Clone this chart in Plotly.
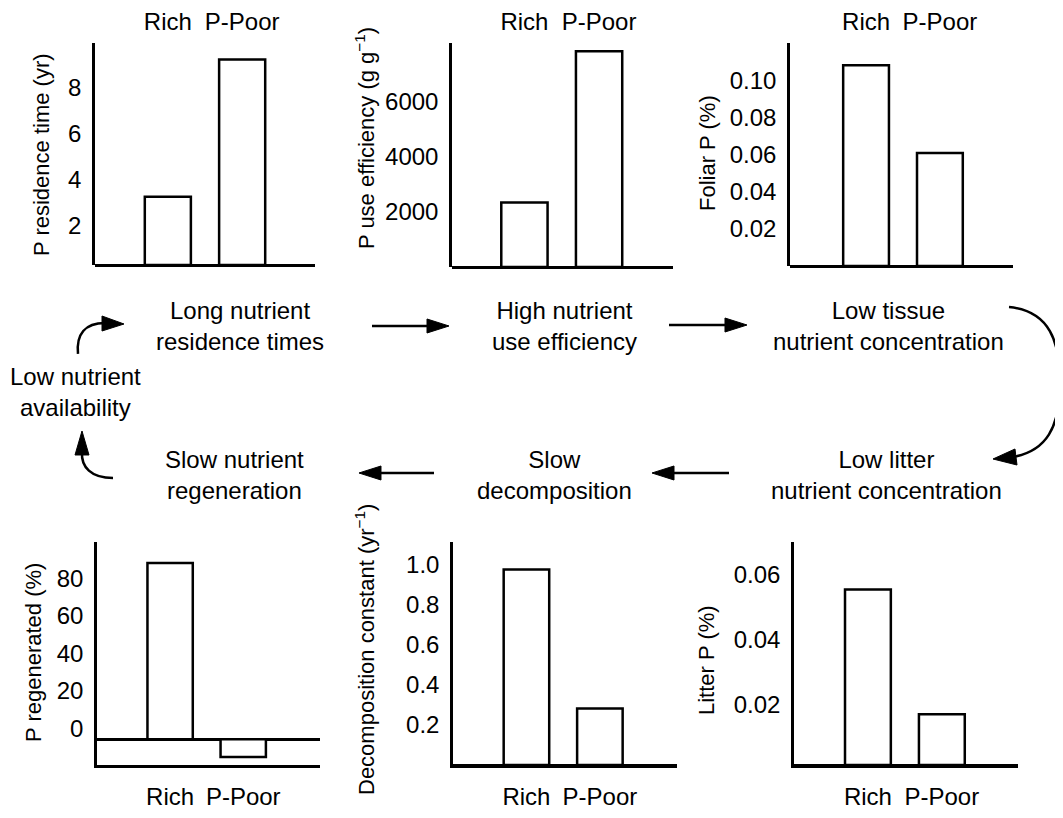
import plotly.graph_objects as go

# page is 1063x818; the default HTML body margin offsets the figure by 8 px
PAGE_W, PAGE_H = 1063, 818
OFF = 8
W, H = PAGE_W - OFF, PAGE_H - OFF

# ---------------- data ----------------
categories = ["Rich", "P-Poor"]
residence_time = [2.95, 8.9]          # P residence time (yr)
use_efficiency = [2350, 7850]         # P use efficiency (g g-1)
foliar_p = [0.1085, 0.061]            # Foliar P (%)
p_regenerated = [94, -9.5]            # P regenerated (%)
decomp_k = [0.978, 0.283]             # Decomposition constant (yr-1)
litter_p = [0.054, 0.0156]            # Litter P (%)

ticks_res = [2, 4, 6, 8]
ticks_nue = [2000, 4000, 6000]
ticks_fol = [0.02, 0.04, 0.06, 0.08, 0.10]
ticks_reg = [0, 20, 40, 60, 80]
ticks_dec = [0.2, 0.4, 0.6, 0.8, 1.0]
ticks_lit = [0.02, 0.04, 0.06]

titles = [
    "P residence time (yr)",
    "P use efficiency (g g<sup>−1</sup>)",
    "Foliar P (%)",
    "P regenerated (%)",
    "Decomposition constant (yr<sup>−1</sup>)",
    "Litter P (%)",
]

FONT = "Liberation Sans, Arial, Helvetica, sans-serif"
FS = 24
LW = 2.5


def fx(x):
    return (x - OFF) / W


def fy(y):
    return 1 - (y - OFF) / H


def px(x, y):
    return f"{fx(x):.5f},{fy(y):.5f}"


# panel geometry in page pixels: (x0, x1, ytop, ybottom)
panels = [
    dict(vals=residence_time, ticks=ticks_res, fmt="", rng=[0, 9.61], xr=[-0.98, 1.98], box=(95, 315, 43, 265), top=True, shift=7, title=(41, 155)),
    dict(vals=use_efficiency, ticks=ticks_nue, fmt="d", rng=[0, 8150], xr=[-0.97, 1.99], box=(452, 673, 43, 267), top=True, shift=0, title=(365, 138)),
    dict(vals=foliar_p, ticks=ticks_fol, fmt=".2f", rng=[0, 0.1205], xr=[-1.03, 1.99], box=(790, 1013, 43, 266), top=True, shift=0, title=(707, 153)),
    dict(vals=p_regenerated, ticks=ticks_reg, fmt="d", rng=[-13.7, 105.2], xr=[-1.0, 2.05], box=(97, 320, 542, 765), top=False, shift=-11, title=(33, 653)),
    dict(vals=decomp_k, ticks=ticks_dec, fmt=".1f", rng=[0, 1.115], xr=[-1.0, 2.05], box=(453, 677, 542, 765), top=False, shift=0, title=(365, 650)),
    dict(vals=litter_p, ticks=ticks_lit, fmt=".2f", rng=[0, 0.0686], xr=[-1.0, 2.03], box=(794, 1018, 542, 765), top=False, shift=5, title=(706, 660)),
]

fig = go.Figure()
layout = dict(
    width=W, height=H, autosize=False,
    margin=dict(l=0, r=0, t=0, b=0),
    paper_bgcolor="white", plot_bgcolor="white",
    showlegend=False,
    font=dict(family=FONT, size=FS, color="black"),
)

annotations = []
shapes = []

for i, p in enumerate(panels):
    n = "" if i == 0 else str(i + 1)
    x0, x1, yt, yb = p["box"]
    fig.add_trace(go.Bar(
        x=categories, y=p["vals"], width=0.62,
        marker=dict(color="white", line=dict(color="black", width=LW)),
        xaxis="x" + n, yaxis="y" + n, hoverinfo="skip",
    ))
    xa = dict(
        domain=[fx(x0), fx(x1)], anchor="y" + n, range=p["xr"],
        type="category", showgrid=False, ticks="", zeroline=False,
        tickfont=dict(size=FS, family=FONT),
        side="top" if p["top"] else "bottom",
        showline=not p["top"], linecolor="black", linewidth=LW,
        ticklabelstandoff=7 if p["top"] else 8,
    )
    ya = dict(
        domain=[fy(yb), fy(yt)], anchor="x" + n, range=p["rng"],
        showgrid=False, ticks="", tickvals=p["ticks"],
        tickformat=p["fmt"], tickfont=dict(size=FS, family=FONT),
        showline=True, linecolor="black", linewidth=LW,
        zeroline=True, zerolinecolor="black", zerolinewidth=LW,
        ticklabelstandoff=6, ticklabelshift=p["shift"],
    )
    layout["xaxis" + n] = xa
    layout["yaxis" + n] = ya
    tx, ty = p["title"]
    annotations.append(dict(
        text=titles[i], x=fx(tx), y=fy(ty), xref="paper", yref="paper",
        showarrow=False, textangle=-90, xanchor="center", yanchor="middle",
        font=dict(size=22, family=FONT),
    ))

# ---------------- flow-diagram text ----------------
labels = [
    ("Long nutrient<br>residence times", 240, 326),
    ("High nutrient<br>use efficiency", 564, 326),
    ("Low tissue<br>nutrient concentration", 888, 326),
    ("Low nutrient<br>availability", 75, 392),
    ("Slow nutrient<br>regeneration", 234, 475),
    ("Slow<br>decomposition", 554, 475),
    ("Low litter<br>nutrient concentration", 886, 475),
]
for t, x, y in labels:
    annotations.append(dict(
        text=t, x=fx(x), y=fy(y), xref="paper", yref="paper",
        showarrow=False, xanchor="center", yanchor="middle",
        font=dict(size=FS, family=FONT),
    ))

# ---------------- arrows ----------------
line_style = dict(color="black", width=LW)
# straight arrows: (x_start, x_tip, y)
straight = [(372, 449, 326), (669, 747, 325), (434, 359, 473), (729, 652, 473)]
for xs, xt, y in straight:
    d = 1 if xt > xs else -1
    base = xt - d * 22
    shapes.append(dict(type="path", xref="paper", yref="paper",
                       path=f"M {px(xs, y)} L {px(base + d * 2, y)}", line=line_style))
    shapes.append(dict(type="path", xref="paper", yref="paper",
                       path=f"M {px(base, y - 7)} L {px(xt, y)} L {px(base, y + 7)} Z",
                       fillcolor="black", line=dict(color="black", width=1)))

curves = [
    f"M {px(78, 354)} C {px(76, 334)} {px(85, 323)} {px(105, 323)}",
    f"M {px(113, 478)} C {px(91, 478)} {px(81, 467)} {px(82, 452)}",
    f"M {px(1009, 307)} C {px(1050, 311)} {px(1060, 342)} {px(1060, 383)} C {px(1060, 428)} {px(1046, 451)} {px(1013, 457)}",
]
for c in curves:
    shapes.append(dict(type="path", xref="paper", yref="paper", path=c, line=line_style))

heads = [
    [(102, 316), (124, 324), (102, 331)],
    [(82, 431), (75, 455), (89, 455)],
    [(993, 459), (1015, 449), (1017, 465)],
]
for a, b, c in heads:
    shapes.append(dict(type="path", xref="paper", yref="paper",
                       path=f"M {px(*a)} L {px(*b)} L {px(*c)} Z",
                       fillcolor="black", line=dict(color="black", width=1)))

layout["annotations"] = annotations
layout["shapes"] = shapes
fig.update_layout(**layout)
fig.write_html("out.html")
